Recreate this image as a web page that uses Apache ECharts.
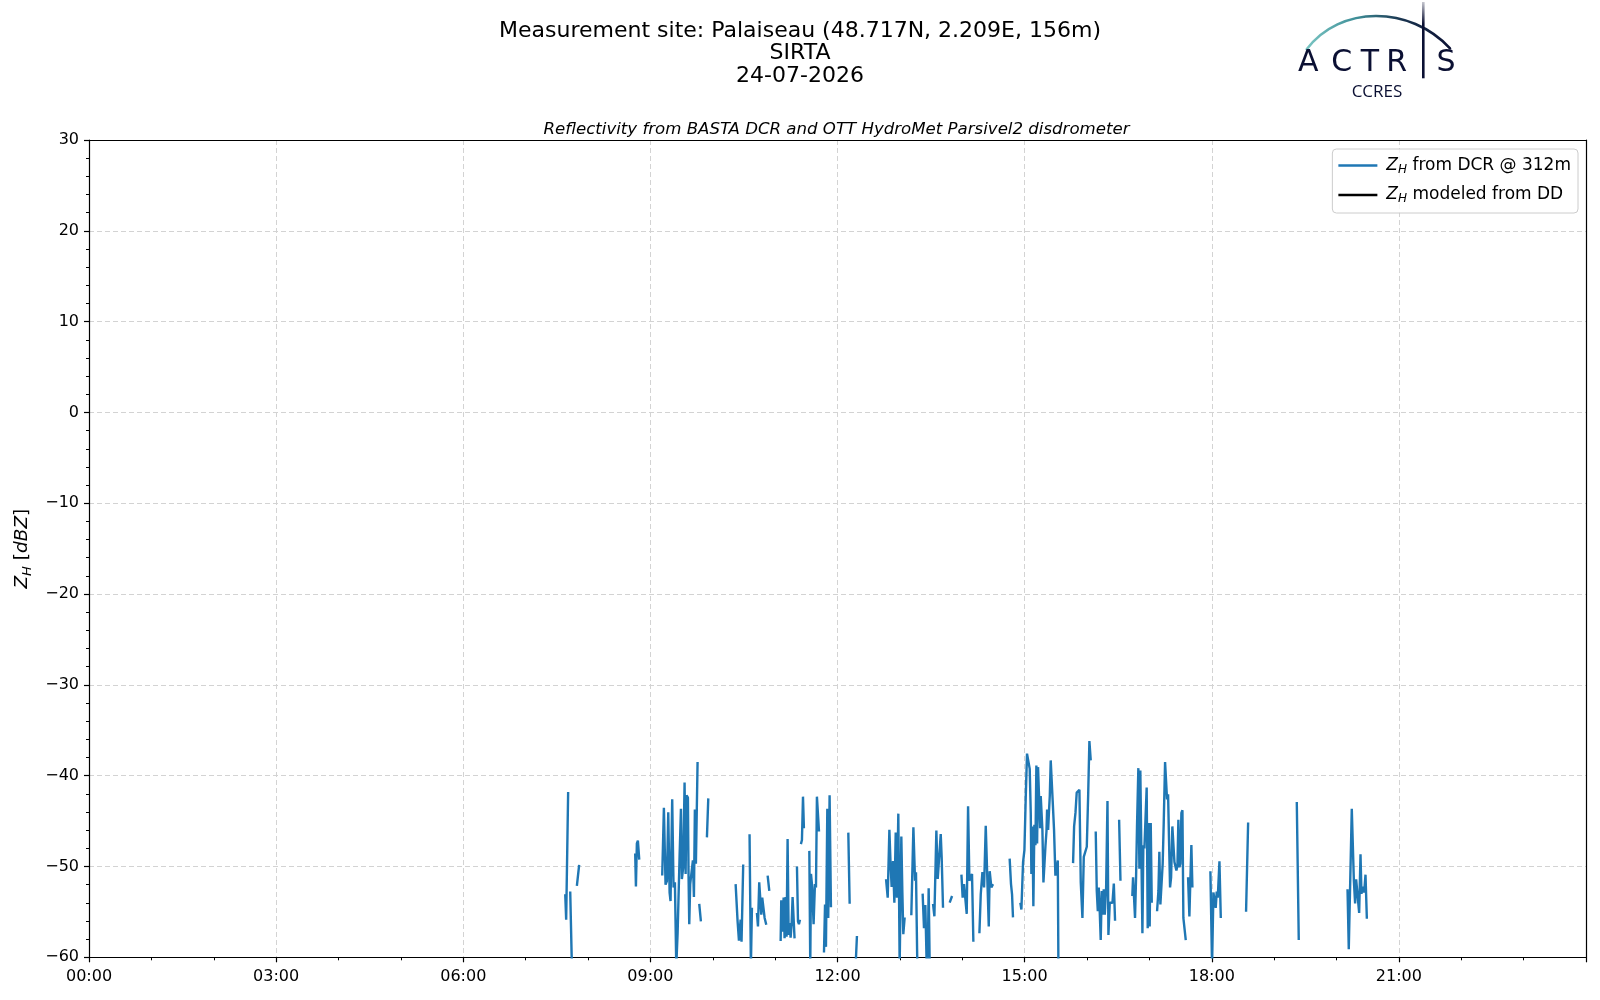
<!DOCTYPE html>
<html>
<head>
<meta charset="utf-8">
<script src="https://cdn.jsdelivr.net/npm/echarts@6/dist/echarts.min.js"></script>
<style>
html,body{margin:0;padding:0;background:#fff;}
#chart{width:1600px;height:1000px;}
</style>
</head>
<body>
<div id="chart"></div>
<script>
// ---- data (time in minutes since 00:00 UTC, reflectivity in dBZ; null = gap) ----
const dcrTimeMin = [
458.1,459.0,460.9,461.5,462.9,464.5,465.0,469.3,471.5,472.0,
525.4,526.1,527.0,528.0,529.3,530.0,
551.4,553.0,554.6,555.9,557.2,558.5,559.4,561.0,562.3,563.6,564.9,566.2,568.1,569.4,570.3,571.6,572.9,573.9,574.8,576.1,576.7,577.4,578.3,580.9,581.9,582.8,583.8,584.8,585.4,586.0,
587.0,588.6,589.0,594.4,595.7,596.0,
622.0,623.9,625.2,626.8,627.7,629.3,630.0,
635.4,636.7,637.7,638.0,
642.5,643.5,644.7,645.7,646.7,647.6,648.9,649.9,651.5,652.0,
652.8,654.4,655.0,
665.3,665.9,666.9,668.2,669.1,670.1,671.0,672.0,673.0,673.9,674.9,675.9,676.8,677.8,678.7,679.0,
681.0,682.0,682.9,683.9,684.2,
684.8,685.8,686.8,687.7,688.0,
692.9,693.8,694.5,695.7,697.0,698.3,699.3,700.2,701.2,702.2,703.0,
707.0,708.0,708.9,710.2,711.1,712.4,713.7,714.0,
730.4,731.7,732.0,737.4,738.7,739.0,
766.7,768.3,769.9,771.1,772.1,773.4,774.7,776.0,777.2,778.5,779.8,781.4,782.4,783.3,784.6,785.0,
791.0,793.0,794.6,795.5,796.8,797.0,
801.9,803.2,804.5,805.8,806.8,807.7,808.7,809.0,
811.9,813.2,815.1,816.4,817.7,819.3,820.2,821.5,822.0,
827.9,830.2,831.0,
839.2,840.4,841.7,843.3,844.3,845.6,846.9,848.1,849.4,850.7,851.0,
856.5,857.8,859.4,861.0,862.6,865.5,866.4,868.0,869.6,870.0,
885.6,886.9,887.9,888.8,889.0,
895.9,896.9,897.8,898.5,899.8,901.1,902.3,903.6,904.9,905.9,906.5,907.5,908.4,909.4,910.4,911.3,912.0,912.9,913.9,914.9,915.5,916.5,917.1,918.1,919.0,920.0,921.0,921.6,922.6,923.5,924.2,925.1,926.1,927.0,928.3,929.6,930.6,931.9,932.5,933.0,
946.6,947.6,948.9,950.1,951.4,952.7,954.0,955.6,956.9,958.5,959.8,961.1,962.3,963.6,964.0,
968.4,969.4,970.4,971.3,972.3,973.2,974.2,975.2,976.1,977.1,978.4,979.7,980.6,981.9,983.2,984.5,985.8,987.0,987.5,
990.9,992.2,993.0,
1003.6,1004.3,1005.3,1006.2,1007.2,1008.1,1009.4,1010.4,1011.3,1012.3,1013.3,1014.2,1015.2,1016.5,1017.4,1018.4,1019.4,1020.3,1021.3,1022.3,1023.0,
1027.4,1028.7,1029.6,1030.6,1031.6,1032.8,1033.8,1035.1,1036.0,1037.0,1038.0,1038.9,1039.9,1040.9,1042.1,1043.1,1044.1,1045.0,1046.0,1047.0,1047.9,1048.9,1049.8,1050.8,1051.8,1052.7,1054.0,1055.0,1056.0,
1057.2,1058.5,1059.5,1060.4,1061.4,1062.0,
1078.7,1080.3,1081.6,1082.9,1083.8,1084.8,1085.8,1087.4,1088.7,1089.0,
1113.0,1115.0,1116.0,
1161.8,1163.7,1164.0,
1210.6,1211.8,1214.7,1216.7,1217.9,1218.9,1220.5,1221.8,1223.1,1224.0,1225.3,1226.6,1227.9,1229.2
];
const dcrZh = [
-53.06,-55.86,-41.79,null,-52.76,-61,null,-52.13,-49.81,null,
-48.58,-52.2,-47.46,-47.16,-49.25,null,
-51.0,-43.54,-52.0,-51.6,-44.03,-52.87,-53.81,-42.61,-52.31,-51.75,-61,-57.35,-48.88,-43.65,-51.38,-50.07,-40.74,-50.82,-42.16,-42.42,-50.82,-56.35,-51.94,-49.33,-53.36,-43.73,-49.70,-49.51,-38.50,null,
-54.11,-56.05,null,-46.79,-42.50,null,
-51.94,-56.05,-58.17,-55.86,-58.29,-49.78,null,
-46.45,-61,-54.55,null,
-55.11,-56.61,-51.75,-51.87,-55.3,-53.43,-53.25,-55.67,-56.42,null,
-51.0,-52.69,null,
-58.21,-53.73,-57.17,-53.43,-57.91,-53.36,-57.73,-46.98,-57.54,-56.23,-57.84,-56.23,-53.36,-53.43,-57.91,null,
-50.0,-56.05,-56.35,-55.86,null,
-47.54,-47.09,-42.31,-45.78,null,
-48.28,-61,-50.82,-52.31,-56.35,-51.94,-52.31,-42.31,-42.42,-46.15,null,
-59.48,-54.18,-58.85,-43.65,-55.67,-42.16,-54.48,null,
-46.27,-54.11,null,-61,-57.65,null,
-51.38,-53.43,-45.97,-49.89,-52.24,-49.40,-53.99,-46.27,-53.43,-44.18,-61,-46.71,-52.87,-57.46,-55.6,null,
-55.37,-45.67,-51.57,-50.63,-61,null,
-52.99,-56.79,-54.25,-61,-60.15,-52.39,-61,null,
-54.11,-55.49,-46.04,-51.38,-51.19,-46.42,-48.95,-54.55,null,
-53.99,-53.25,null,
-50.90,-53.43,-51.94,-51.94,-55.22,-43.36,-51.57,-51.57,-50.82,-58.29,null,
-57.35,-53.06,-50.63,-52.31,-45.52,-56.61,-50.52,-52.31,-51.94,null,
-49.14,-51.94,-53.06,-55.6,null,
-53.99,-54.74,-54.85,-49.51,-48.21,-42.24,-37.57,-37.76,-39.25,-44.10,-50.82,-45.59,-54.37,-45.41,-47.65,-38.88,-47.46,-39.06,-39.17,-45.78,-42.24,-42.42,-45.97,-51.75,-51.94,-47.83,-46.15,-43.73,-45.97,-43.80,-42.24,-38.32,-38.32,-42.80,-45.97,-51.01,-51.01,-49.33,-61,null,
-49.63,-45.59,-44.10,-41.86,-41.68,-41.56,-51.75,-55.67,-48.95,-48.77,-47.83,-42.24,-36.19,-38.32,null,
-46.15,-52.69,-54.93,-52.31,-55.11,-58.10,-52.69,-55.30,-52.50,-55.30,-52.31,-42.80,-57.54,-53.99,-54.11,-53.99,-51.87,-55.97,null,
-44.85,-51.57,null,
-53.25,-51.19,-51.38,-55.67,-51.19,-45.59,-39.17,-50.26,-39.44,-39.62,-57.35,-47.65,-48.02,-48.02,-41.30,-56.79,-45.22,-56.61,-45.22,-53.99,null,
-54.93,-52.69,-48.39,-54.18,-53.99,-49.70,-45.22,-38.50,-38.43,-42.61,-42.05,-47.09,-52.31,-51.19,-45.59,-45.41,-49.51,-49.33,-50.45,-49.89,-44.85,-50.07,-49.70,-44.10,-43.80,-55.67,-55.86,-58.10,null,
-51.19,-55.49,-51.19,-47.65,-52.31,null,
-50.52,-61,-52.87,-52.99,-54.55,-52.76,-53.43,-49.44,-55.67,null,
-54.99,-45.15,null,
-42.91,-58.10,null,
-52.50,-59.1,-43.65,-51.57,-54.07,-51.42,-51.49,-55.11,-48.66,-52.99,-52.24,-52.87,-50.90,-55.75
];
// disdrometer-modeled reflectivity: no data on this day
const ddTimeMin = [];
const ddZh = [];

const xTickLabels = ['00:00','03:00','06:00','09:00','12:00','15:00','18:00','21:00','24:00'];
const yMin = -60, yMax = 30, yStep = 10;
const seriesNames = ['ZH from DCR @ 312m', 'ZH modeled from DD'];

function pairs(t, v){ return t.map((x,i)=>[x, v[i]]); }

const FONT = 'DejaVu Sans';
const chart = echarts.init(document.getElementById('chart'), null, {renderer:'canvas'});
const navy = '#0b1033';
const frame = {show:true, onZero:false, lineStyle:{color:'#000', width:1.2}};

chart.setOption({
  backgroundColor:'#ffffff',
  animation:false,
  textStyle:{fontFamily:FONT, color:'#000'},
  title:[
    {text:'Measurement site: Palaiseau (48.717N, 2.209E, 156m)\nSIRTA\n24-07-2026',
     left:795, top:15, textAlign:'center',
     textStyle:{fontFamily:FONT, fontSize:22, fontWeight:'normal', color:'#000', lineHeight:22.5}},
    {text:'Reflectivity from BASTA DCR and OTT HydroMet Parsivel2 disdrometer',
     left:831.5, top:116, textAlign:'center',
     textStyle:{fontFamily:FONT, fontSize:16.6, fontStyle:'italic', fontWeight:'normal', color:'#000'}}
  ],
  legend:{
    orient:'vertical', right:22, top:149,
    data:seriesNames,
    icon:'rect', itemWidth:39, itemHeight:2.5, itemGap:11,
    borderColor:'#cccccc', borderWidth:1, borderRadius:4,
    padding:[8,7,8,6], backgroundColor:'rgba(255,255,255,0.8)',
    formatter:function(name){
      const rest = name.substring(2);
      return '{z|Z}{s|H}{t|' + rest + '}';
    },
    textStyle:{fontFamily:FONT, fontSize:17, color:'#000',
      rich:{
        z:{fontFamily:FONT, fontSize:17, fontStyle:'italic', color:'#000', lineHeight:20, padding:[0,0,0,4]},
        s:{fontFamily:FONT, fontSize:12, fontStyle:'italic', color:'#000', verticalAlign:'bottom', lineHeight:14, padding:[6,0,0,0]},
        t:{fontFamily:FONT, fontSize:17, color:'#000', lineHeight:20}
      }}
  },
  grid:{left:89, right:14, top:140, bottom:42.7, show:false, containLabel:false},
  xAxis:[{
    type:'value', min:0, max:1440, interval:180,
    axisLine:frame,
    axisTick:{show:true, inside:false, length:5, lineStyle:{color:'#000', width:1.2}},
    minorTick:{show:true, splitNumber:3, length:3, lineStyle:{color:'#000', width:1}},
    axisLabel:{fontFamily:FONT, fontSize:16, color:'#000', margin:12, showMaxLabel:false,
      formatter:function(v){ return xTickLabels[Math.round(v/180)]; }},
    splitLine:{show:true, lineStyle:{color:'#d3d3d3', width:1, type:[5,3]}}
  },{
    type:'value', position:'top', min:0, max:1440, interval:180,
    axisLine:frame, axisTick:{show:false}, axisLabel:{show:false}, splitLine:{show:false}
  }],
  yAxis:[{
    type:'value', min:yMin, max:yMax, interval:yStep,
    name:'{z|Z}{s|H}{t| [}{u|dBZ}{t|]}', nameLocation:'middle', nameGap:41, nameRotate:90,
    nameTextStyle:{fontFamily:FONT, fontSize:18.5, color:'#000',
      rich:{
        z:{fontFamily:FONT, fontSize:18.5, fontStyle:'italic', color:'#000', lineHeight:24},
        s:{fontFamily:FONT, fontSize:13, fontStyle:'italic', color:'#000', verticalAlign:'bottom', lineHeight:15, padding:[8,0,0,0]},
        t:{fontFamily:FONT, fontSize:18.5, color:'#000', lineHeight:24},
        u:{fontFamily:FONT, fontSize:18.5, fontStyle:'italic', color:'#000', lineHeight:24}
      }},
    axisLine:frame,
    axisTick:{show:true, inside:false, length:5, lineStyle:{color:'#000', width:1.2}},
    minorTick:{show:true, splitNumber:5, length:3, lineStyle:{color:'#000', width:1}},
    axisLabel:{fontFamily:FONT, fontSize:16, color:'#000', margin:10,
      formatter:function(v){ return String(v).replace('-', '\u2212'); }},
    splitLine:{show:true, lineStyle:{color:'#d3d3d3', width:1, type:[5,3]}}
  },{
    type:'value', position:'right', min:yMin, max:yMax, interval:yStep,
    axisLine:frame, axisTick:{show:false}, axisLabel:{show:false}, splitLine:{show:false}
  }],
  series:[
    {name:seriesNames[0], type:'line', xAxisIndex:0, yAxisIndex:0, data:pairs(dcrTimeMin, dcrZh),
     showSymbol:false, symbol:'none', connectNulls:false, clip:true,
     lineStyle:{color:'#1f77b4', width:2.4}, itemStyle:{color:'#1f77b4'}},
    {name:seriesNames[1], type:'line', xAxisIndex:0, yAxisIndex:0, data:pairs(ddTimeMin, ddZh),
     showSymbol:false, symbol:'none', clip:true,
     lineStyle:{color:'#000000', width:2.4}, itemStyle:{color:'#000000'}}
  ],
  graphic:[
    {type:'bezierCurve', silent:true,
     shape:{x1:1306.7, y1:49.3, x2:1450, y2:48.3, cpx1:1340, cpy1:5, cpx2:1410, cpy2:5},
     style:{fill:null, lineWidth:2.6, lineCap:'round',
       stroke:new echarts.graphic.LinearGradient(0,0,1,0,[
         {offset:0, color:'#7cc7c4'},{offset:0.35, color:'#3f8f98'},{offset:0.65, color:'#1a3550'},{offset:1, color:navy}])}},
    {type:'line', silent:true,
     shape:{x1:1423.3, y1:2, x2:1423.3, y2:78.3},
     style:{lineWidth:2.6,
       stroke:new echarts.graphic.LinearGradient(0,0,0,1,[
         {offset:0, color:'rgba(11,16,51,0.15)'},{offset:0.3, color:navy},{offset:1, color:navy}])}},
    {type:'text', silent:true, x:1308.3, y:78.3, style:{text:'A', fontFamily:FONT, fontSize:30, fill:navy, align:'center', verticalAlign:'bottom'}},
    {type:'text', silent:true, x:1341.7, y:78.3, style:{text:'C', fontFamily:FONT, fontSize:30, fill:navy, align:'center', verticalAlign:'bottom'}},
    {type:'text', silent:true, x:1370, y:78.3, style:{text:'T', fontFamily:FONT, fontSize:30, fill:navy, align:'center', verticalAlign:'bottom'}},
    {type:'text', silent:true, x:1396.7, y:78.3, style:{text:'R', fontFamily:FONT, fontSize:30, fill:navy, align:'center', verticalAlign:'bottom'}},
    {type:'text', silent:true, x:1446, y:78.3, style:{text:'S', fontFamily:FONT, fontSize:30, fill:navy, align:'center', verticalAlign:'bottom'}},
    {type:'text', silent:true, x:1377, y:92, style:{text:'CCRES', fontFamily:'Open Sans', fontSize:17, fill:navy, align:'center', verticalAlign:'middle'}}
  ]
});
</script>
</body>
</html>
